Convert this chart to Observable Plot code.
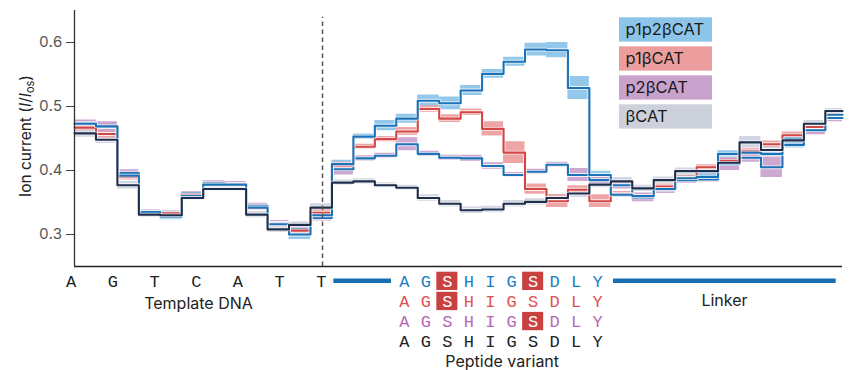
<!DOCTYPE html>
<html><head><meta charset="utf-8">
<script src="https://cdn.jsdelivr.net/npm/d3@7"></script>
<script src="https://cdn.jsdelivr.net/npm/@observablehq/plot@0.6"></script>
<style>body{margin:0;background:#fff}#chart{width:853px;height:370px}</style>
</head><body><div id="chart"></div>
<script>
// ---- data ----
const seriesNames = ["p1p2βCAT", "p1βCAT", "p2βCAT", "βCAT"];
const p1p2Mean = [0.473,0.469,0.392,0.335,0.328,0.360,0.378,0.378,0.342,0.316,0.300,0.330,0.410,0.453,0.470,0.481,0.509,0.505,0.525,0.551,0.570,0.589,0.588,0.529,0.393,0.362,0.360,0.371,0.388,0.390,0.426,0.428,0.426,0.440,0.463,0.487];
const p1p2Err  = [0.005,0.005,0.004,0.004,0.005,0.003,0.003,0.003,0.004,0.004,0.008,0.004,0.006,0.004,0.008,0.007,0.009,0.010,0.008,0.007,0.007,0.010,0.012,0.018,0.006,0.004,0.004,0.005,0.005,0.005,0.005,0.004,0.004,0.005,0.004,0.005];
const p1Mean   = [0.467,0.457,0.390,0.335,0.333,0.362,0.378,0.378,0.342,0.316,0.306,0.334,0.408,0.437,0.449,0.461,0.496,0.481,0.491,0.465,0.428,0.371,0.352,0.370,0.352,0.363,0.360,0.375,0.388,0.405,0.415,0.430,0.441,0.455,0.468,0.492];
const p1Err    = [0.005,0.006,0.005,0.003,0.003,0.003,0.003,0.003,0.004,0.004,0.004,0.005,0.005,0.004,0.004,0.006,0.005,0.006,0.005,0.011,0.017,0.008,0.010,0.006,0.010,0.004,0.004,0.004,0.004,0.004,0.004,0.004,0.005,0.005,0.004,0.003];
const p2Mean   = [0.474,0.468,0.396,0.336,0.334,0.364,0.380,0.379,0.345,0.318,0.308,0.326,0.402,0.419,0.423,0.441,0.426,0.420,0.419,0.407,0.393,0.398,0.409,0.393,0.385,0.377,0.358,0.370,0.385,0.386,0.410,0.420,0.405,0.450,0.463,0.482];
const p2Err    = [0.005,0.008,0.005,0.003,0.003,0.003,0.004,0.004,0.004,0.004,0.004,0.005,0.009,0.004,0.004,0.010,0.004,0.004,0.005,0.005,0.004,0.004,0.004,0.010,0.007,0.006,0.007,0.006,0.005,0.004,0.010,0.007,0.016,0.005,0.007,0.006];
const bMean    = [0.458,0.448,0.377,0.331,0.330,0.357,0.371,0.371,0.331,0.308,0.315,0.342,0.381,0.383,0.377,0.373,0.357,0.348,0.338,0.339,0.348,0.351,0.357,0.364,0.378,0.383,0.372,0.385,0.399,0.399,0.412,0.444,0.432,0.447,0.473,0.493];
const bErr     = [0.006,0.006,0.006,0.004,0.004,0.004,0.004,0.004,0.005,0.005,0.005,0.006,0.004,0.004,0.004,0.004,0.005,0.005,0.005,0.005,0.005,0.005,0.006,0.006,0.005,0.006,0.005,0.005,0.005,0.005,0.008,0.009,0.005,0.006,0.005,0.004];
const yTicks = [0.3, 0.4, 0.5, 0.6];
const dnaLetters = ["A","G","T","C","A","T","T"];
const peptide = ["A","G","S","H","I","G","S","D","L","Y"];
const phosphoSites = [[2,6],[2],[6],[]];   // highlighted S per row (same order as seriesNames)

// ---- styles / layout ----
const bandColors = ["#8ac3e8", "#eb9d9d", "#c9a1cc", "#cfd3de"];
const lineColors = ["#1b72b6", "#d24646", "#1b72b6", "#1d2e4c"];
const rowTextColors = ["#1a80c4", "#e05252", "#b46ab6", "#222222"];
const legendColors = ["#8cc5e9", "#ec9e9e", "#c9a1cd", "#cdd1dc"];
const monoFont = "'Liberation Mono', 'Courier New', monospace";
const sansFont = "Inter, 'Noto Sans', sans-serif";
const W = 853, H = 370, mL = 74, mR = 11, mT = 10, mB = 104;
const xMax = 35.8, yLo = 0.25, yHi = 0.65;
const pxPerX = (W - mL - mR) / xMax;
const xOf = px => (px - mL) / pxPerX;
const yOf = py => yHi - (py - mT) / (H - mT - mB) * (yHi - yLo);

const means = [p1p2Mean, p1Mean, p2Mean, bMean];
const errs = [p1p2Err, p1Err, p2Err, bErr];
function rowsFor(i) {
  const r = means[i].map((v, k) => ({x: k, v, lo: v - errs[i][k], hi: v + errs[i][k]}));
  r.push({...r[r.length - 1], x: xMax});
  return r;
}
const tables = seriesNames.map((_, i) => rowsFor(i));

const marks = [];
// bands
for (const i of [3, 0, 1, 2]) {
  marks.push(Plot.areaY(tables[i], {x: "x", y1: "lo", y2: "hi", curve: "step-after", fill: bandColors[i], fillOpacity: 0.92}));
}
// lines with white halo
for (const i of [2, 1, 0, 3]) {
  marks.push(Plot.line(tables[i], {x: "x", y: "v", curve: "step-after", stroke: "white", strokeWidth: 3.8, strokeOpacity: 0.8}));
  marks.push(Plot.line(tables[i], {x: "x", y: "v", curve: "step-after", stroke: lineColors[i], strokeWidth: 2.1}));
}
// axes lines
marks.push(Plot.ruleX([0], {y1: yLo, y2: yHi, stroke: "#333", strokeWidth: 1.3}));
marks.push(Plot.ruleY([yLo], {x1: 0, x2: xMax, stroke: "#222", strokeWidth: 1.5}));
// dashed separator
const sepX = xOf(322);
marks.push(Plot.ruleX([sepX], {y1: yLo, y2: yOf(16.7), stroke: "#555", strokeWidth: 1.5, strokeDasharray: "4.5,3.5"}));
// legend
const legRows = seriesNames.map((s, i) => ({s, i, top: yOf(17.3 + 29 * i), bot: yOf(41.6 + 29 * i), mid: yOf(29.5 + 29 * i)}));
marks.push(Plot.rect(legRows, {x1: xOf(619), x2: xOf(712), y1: "bot", y2: "top", fill: (d) => legendColors[d.i]}));
marks.push(Plot.text(legRows, {x: xOf(625), y: "mid", text: "s", textAnchor: "start", fill: "#1a1a1a", fontSize: 16.5, fontFamily: sansFont}));
// DNA letters
const dnaRows = dnaLetters.map((t, i) => ({t, x: -0.16 + i * 1.945}));
marks.push(Plot.text(dnaRows, {x: "x", y: () => yOf(281), text: "t", fontFamily: monoFont, fontSize: 17, fill: "#222"}));
// blue bars
const bars = [{x1: xOf(333.3), x2: xOf(391)}, {x1: xOf(613), x2: xOf(835.7)}];
marks.push(Plot.ruleY(bars, {y: () => yOf(280.3), x1: "x1", x2: "x2", stroke: "#1a6fb2", strokeWidth: 4.5}));
// highlight boxes
const boxes = [];
phosphoSites.forEach((sites, r) => sites.forEach(j => boxes.push({r, j})));
const pepX0 = 15.38;
marks.push(Plot.rect(boxes, {x1: d => pepX0 + d.j - 0.49, x2: d => pepX0 + d.j + 0.49, y1: d => yOf(290 + 20.1 * d.r), y2: d => yOf(271.7 + 20.1 * d.r), fill: "#c8403f"}));
// peptide letters
const pepRows = [];
seriesNames.forEach((s, r) => peptide.forEach((t, j) => pepRows.push({t, r, j, hl: phosphoSites[r].includes(j)})));
marks.push(Plot.text(pepRows, {x: d => pepX0 + d.j, y: d => yOf(281 + 20.1 * d.r), text: "t", fontFamily: monoFont, fontSize: 17, fill: d => d.hl ? "#ffffff" : rowTextColors[d.r]}));
// group labels
const labels = [
  {t: "Template DNA", x: xOf(198), y: yOf(303.5)},
  {t: "Linker", x: xOf(724), y: yOf(300.5)},
  {t: "Peptide variant", x: xOf(501.7), y: yOf(361)}
];
marks.push(Plot.text(labels, {x: "x", y: "y", text: "t", fontSize: 16, fill: "#222", fontFamily: sansFont}));

const chart = Plot.plot({
  width: W, height: H,
  marginLeft: mL, marginRight: mR, marginTop: mT, marginBottom: mB,
  style: {fontFamily: sansFont, background: "white", overflow: "visible"},
  x: {domain: [0, xMax], axis: null},
  y: {domain: [yLo, yHi], ticks: yTicks, tickFormat: ".1f", tickSize: 8, label: null, tickPadding: 4},
  marks: [
    Plot.axisY({ticks: yTicks, tickFormat: ".1f", tickSize: 8, tickPadding: 4, fontSize: 15, stroke: "#444", fill: "#555", label: null}),
    ...marks
  ]
});
document.getElementById("chart").appendChild(chart);

// y-axis title with italic I and subscript
const svg = d3.select(chart);
const t = svg.append("text")
  .attr("transform", "translate(27,136) rotate(-90)")
  .attr("text-anchor", "middle")
  .attr("dominant-baseline", "middle")
  .attr("font-family", sansFont)
  .attr("font-size", 15.5)
  .attr("fill", "#222");
t.append("tspan").text("Ion current (");
t.append("tspan").attr("font-style", "italic").text("I");
t.append("tspan").text("/");
t.append("tspan").attr("font-style", "italic").text("I");
t.append("tspan").attr("font-size", 11).attr("dy", 4).text("os");
t.append("tspan").attr("dy", -4).text(")");
</script>
</body></html>
